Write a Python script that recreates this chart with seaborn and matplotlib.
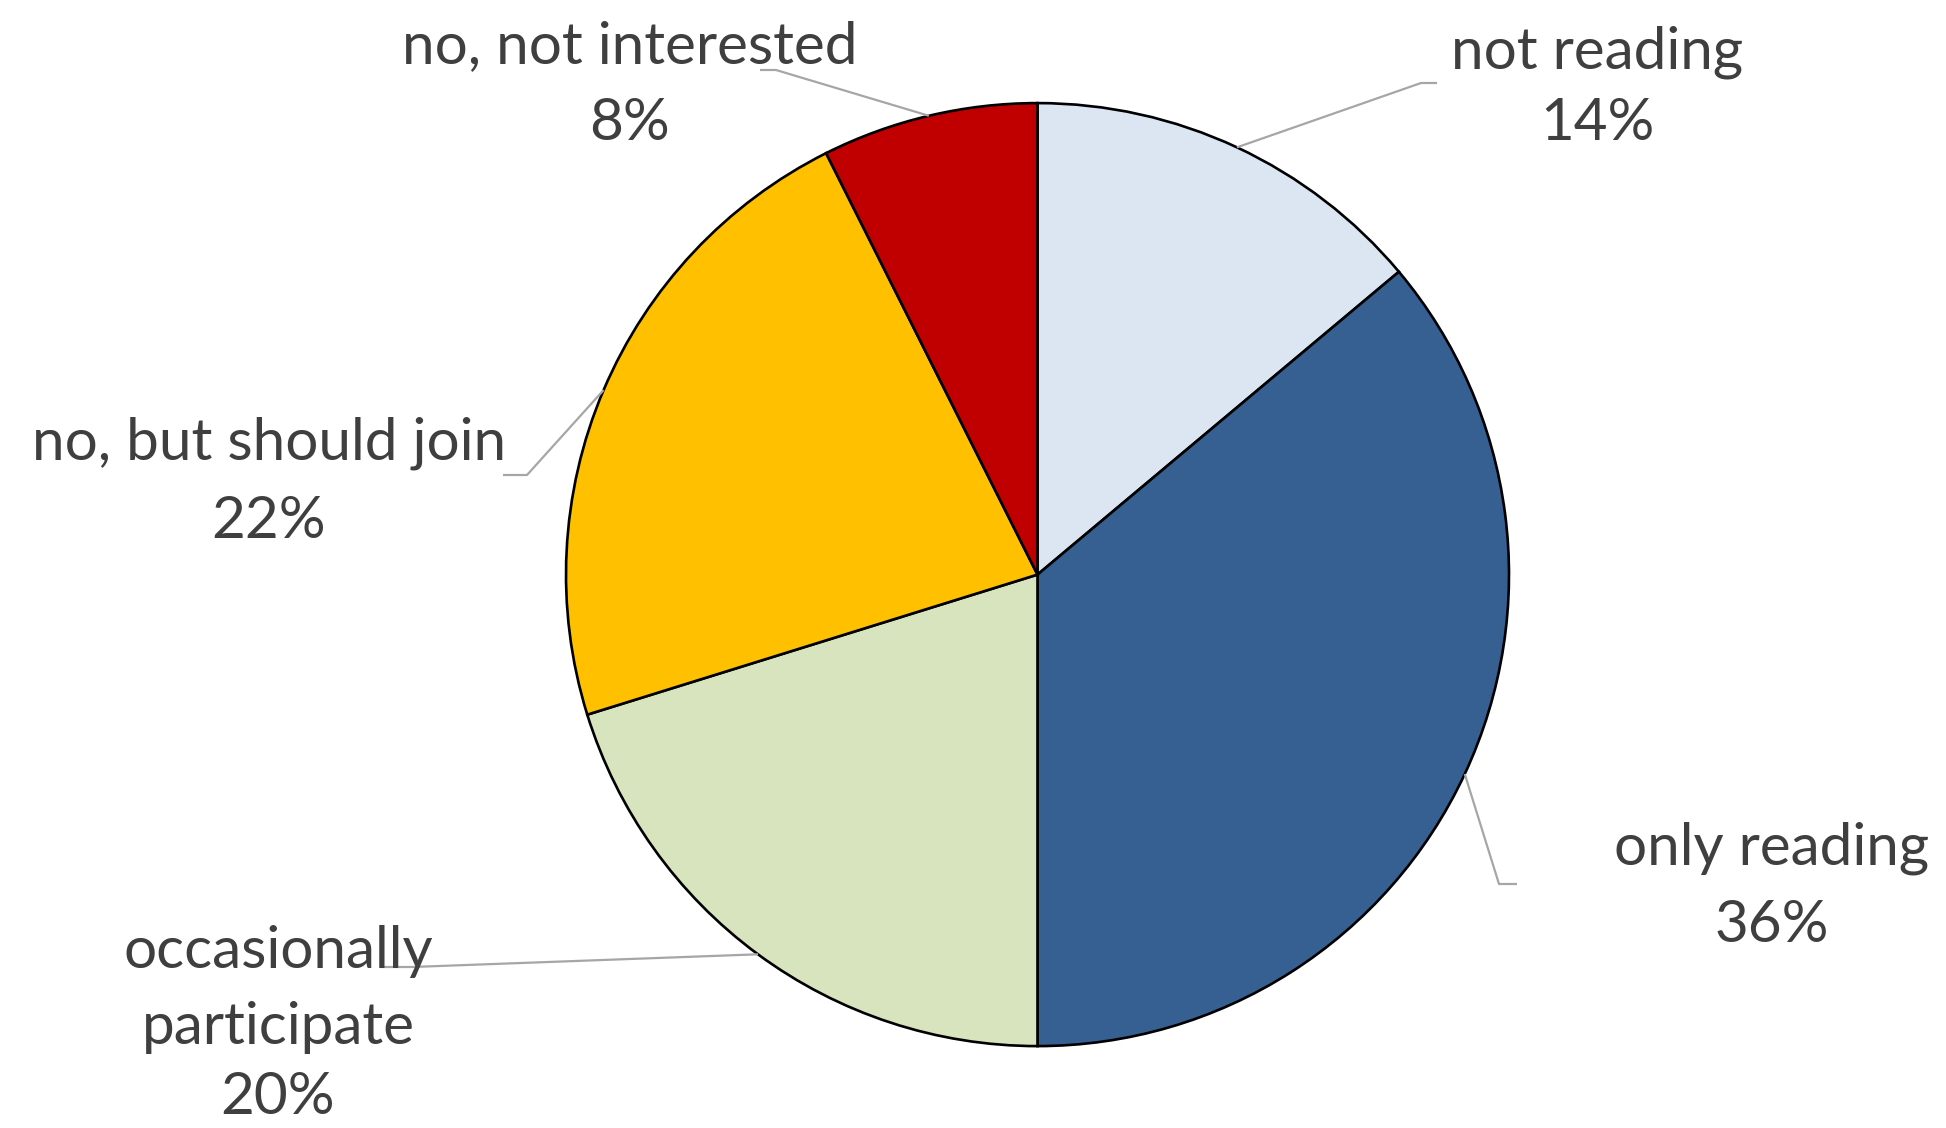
import numpy as np
import matplotlib
matplotlib.use("Agg")
import matplotlib.pyplot as plt
import seaborn as sns

# ---- data ----
categories = ["not reading", "only reading", "occasionally participate",
              "no, but should join", "no, not interested"]
values = [13.9, 36.1, 20.2, 22.4, 7.4]
pct_labels = ["14%", "36%", "20%", "22%", "8%"]
name_lines = [["not reading"],
              ["only reading"],
              ["occasionally", "participate"],
              ["no, but should join"],
              ["no, not interested"]]
colors = ["#DCE6F2", "#376092", "#D7E4BD", "#FFC000", "#C00000"]

sns.set_theme(style="white")
plt.rcParams['font.family'] = ['Lato', 'DejaVu Sans']

W, H = 1946, 1128
fig = plt.figure(figsize=(W / 100, H / 100), dpi=100)
ax = fig.add_axes([0, 0, 1, 1])

def Y(y):
    return H - y

cx, cy, R = 1037.5, 574.6, 471.5
wedges, _ = ax.pie(values, colors=sns.color_palette(colors), startangle=90,
                   counterclock=False, center=(cx, Y(cy)), radius=R, frame=True,
                   wedgeprops=dict(edgecolor="black", linewidth=1.9))
ax.set_xlim(0, W)
ax.set_ylim(0, H)
ax.set_aspect("equal")
ax.axis("off")

# label layout: (center x, list of line y's), elbow point, stub end
label_pos = [
    (1597, [52, 124]),
    (1772, [848, 925]),
    (278, [951, 1028, 1098]),
    (269, [443, 521]),
    (630, [47, 124]),
]
leader = [
    ((1421, 83), (1437, 83)),
    ((1499, 884), (1517, 884)),
    ((412, 967), (381, 967)),
    ((527, 475), (503, 475)),
    ((776, 70), (760, 70)),
]

for w, (lx, ys), names, pct, (elb, stub) in zip(wedges, label_pos, name_lines,
                                                pct_labels, leader):
    mid = np.deg2rad((w.theta1 + w.theta2) / 2)
    ex, ey = cx + R * np.cos(mid), Y(cy) + R * np.sin(mid)
    ax.plot([ex, elb[0], stub[0]], [ey, Y(elb[1]), Y(stub[1])],
            color="#A6A6A6", lw=1.6, zorder=3, solid_capstyle="butt")
    for t, yy in zip(names + [pct], ys):
        ax.text(lx, Y(yy), t, ha="center", va="center", fontsize=42,
                color="#3F3F3F", zorder=4)

fig.savefig("out.png", dpi=100, facecolor="white")
